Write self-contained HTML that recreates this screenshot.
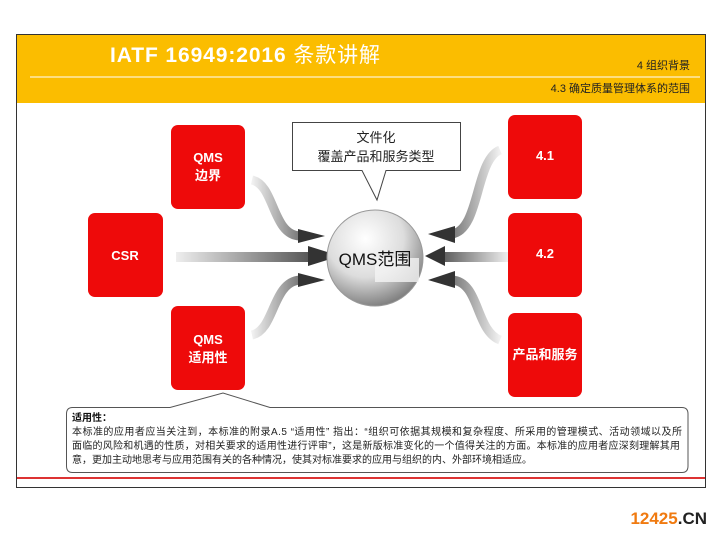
<!DOCTYPE html>
<html><head><meta charset="utf-8"><style>
body{margin:0;background:#fff;width:720px;height:540px;overflow:hidden;font-family:"Liberation Sans","Noto Sans CJK SC",sans-serif}
</style></head><body>
<svg width="720" height="540" xmlns="http://www.w3.org/2000/svg" style="position:absolute;left:0;top:0">
<defs>
<linearGradient id="gl" x1="0" x2="1"><stop offset="0" stop-color="#eee"/><stop offset="1" stop-color="#555"/></linearGradient>
<linearGradient id="gr" x1="1" x2="0"><stop offset="0" stop-color="#eee"/><stop offset="1" stop-color="#555"/></linearGradient>
<radialGradient id="sp" cx="0.4" cy="0.3" r="0.8"><stop offset="0" stop-color="#fff"/><stop offset="0.5" stop-color="#ddd"/><stop offset="1" stop-color="#666"/></radialGradient>
</defs>
<rect x="16.5" y="34.5" width="689" height="453" fill="#fff" stroke="#333"/>
<rect x="17" y="35" width="688" height="68" fill="#fbbd00"/>
<line x1="30" y1="77" x2="700" y2="77" stroke="#fff" stroke-width="1"/>
<text x="110" y="62" fill="#fff" font-size="21" font-weight="bold" textLength="270">IATF 16949:2016 <tspan font-weight="normal">条款讲解</tspan></text>
<text x="690" y="69" fill="#222" font-size="11" text-anchor="end">4 组织背景</text>
<text x="690" y="92" fill="#222" font-size="11" text-anchor="end">4.3 确定质量管理体系的范围</text>
<path d="M252 180 C275 185,272 235,300 236" stroke="url(#gl)" stroke-width="9" fill="none" opacity="0.8"/>
<path d="M252 335 C275 330,272 282,300 280" stroke="url(#gl)" stroke-width="9" fill="none" opacity="0.8"/>
<rect x="176" y="252" width="135" height="10" fill="url(#gl)"/>
<polygon points="298,229 325,236 298,243" fill="#333"/>
<polygon points="308,246 340,256 308,266" fill="#333"/>
<polygon points="298,273 325,280 298,287" fill="#333"/>
<path d="M500 150 C475 160,480 230,452 234" stroke="url(#gr)" stroke-width="9" fill="none" opacity="0.8"/>
<path d="M500 340 C475 330,480 282,452 280" stroke="url(#gr)" stroke-width="9" fill="none" opacity="0.8"/>
<rect x="440" y="252" width="68" height="10" fill="url(#gr)"/>
<polygon points="455,226 428,234 455,243" fill="#333"/>
<polygon points="445,246 425,256 445,266" fill="#333"/>
<polygon points="455,271 428,280 455,288" fill="#333"/>
<circle cx="375" cy="258" r="48" fill="url(#sp)" stroke="#999"/>
<rect x="375" y="258" width="44" height="24" fill="#f4f4f4" opacity="0.8"/>
<text x="375" y="265" font-size="17" text-anchor="middle" fill="#111">QMS范围</text>
<path d="M292.5 122.5 H460.5 V170.5 H386 L377 200 L362 170.5 H292.5 Z" fill="#fff" stroke="#444"/>
<text x="376" y="142" font-size="13" text-anchor="middle" fill="#222">文件化</text>
<text x="376" y="161" font-size="13" text-anchor="middle" fill="#222">覆盖产品和服务类型</text>
<g fill="#ee0a0a">
<rect x="171" y="125" width="74" height="84" rx="7"/>
<rect x="88" y="213" width="75" height="84" rx="7"/>
<rect x="171" y="306" width="74" height="84" rx="7"/>
<rect x="508" y="115" width="74" height="84" rx="7"/>
<rect x="508" y="213" width="74" height="84" rx="7"/>
<rect x="508" y="313" width="74" height="84" rx="7"/>
</g>
<g fill="#fff" font-size="13" font-weight="bold" text-anchor="middle">
<text x="208" y="162">QMS</text><text x="208" y="180">边界</text>
<text x="125" y="260">CSR</text>
<text x="208" y="344">QMS</text><text x="208" y="362">适用性</text>
<text x="545" y="160">4.1</text>
<text x="545" y="258">4.2</text>
<text x="545" y="359">产品和服务</text>
</g>
<path d="M72.5 407.5 H170 L223 393 L270 407.5 H682 Q688 407.5 688 414 V466 Q688 472.5 682 472.5 H72.5 Q66.5 472.5 66.5 466 V414 Q66.5 407.5 72.5 407.5 Z" fill="#fff" stroke="#555"/>
<text x="72" y="421" font-size="10" font-weight="bold" fill="#111">适用性：</text>
<text x="72" y="435" font-size="10" fill="#222" textLength="610">本标准的应用者应当关注到，本标准的附录A.5 “适用性” 指出：“组织可依据其规模和复杂程度、所采用的管理模式、活动领域以及所</text>
<text x="72" y="449" font-size="10" fill="#222" textLength="608">面临的风险和机遇的性质，对相关要求的适用性进行评审”，这是新版标准变化的一个值得关注的方面。本标准的应用者应深刻理解其用</text>
<text x="72" y="463" font-size="10" fill="#222" textLength="460">意，更加主动地思考与应用范围有关的各种情况，使其对标准要求的应用与组织的内、外部环境相适应。</text>
<line x1="17" y1="478" x2="705" y2="478" stroke="#d33" stroke-width="2"/>
<text x="707" y="524" font-size="17" font-weight="bold" text-anchor="end"><tspan fill="#f07a10">12425</tspan><tspan fill="#222">.CN</tspan></text>
</svg>
</body></html>
